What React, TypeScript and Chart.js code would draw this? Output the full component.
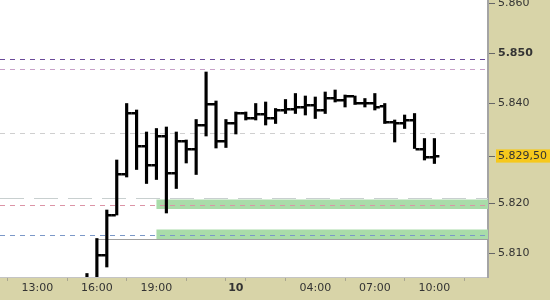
import React, { useEffect, useRef } from 'react';
import { Chart, registerables } from 'chart.js';

Chart.register(...registerables);

// Half-hour slots, 0 = 13:00 (day 9)
const barSlots = [5, 6, 7, 8, 9, 10, 11, 12, 13, 14, 15, 16, 17, 18, 19, 20, 21, 22, 23, 24, 25, 26, 27, 28, 29, 30, 31, 32, 33, 34, 35, 36, 37, 38, 39, 40];
const opens = [5801, 5804, 5809.7, 5817.7, 5826, 5838.2, 5831.5, 5827.7, 5833.5, 5826.1, 5832.5, 5831, 5835.7, 5839.8, 5832.5, 5836.2, 5838, 5837.2, 5837.9, 5837, 5838.7, 5838.8, 5839.3, 5839.6, 5838.7, 5841, 5840.7, 5841.5, 5840, 5840.1, 5839.5, 5836.3, 5836.2, 5836.7, 5831, 5829.3];
const highs = [5806, 5813, 5818.7, 5828.7, 5840, 5838.7, 5834.3, 5835, 5835.3, 5834.3, 5832.7, 5836.8, 5846.3, 5840.5, 5836.8, 5838.3, 5838.3, 5840, 5840.3, 5839, 5840.8, 5842, 5841.5, 5841.3, 5842.3, 5842.7, 5841.7, 5841.5, 5841, 5842, 5840, 5836.7, 5837.7, 5838, 5833, 5833];
const lows = [5799, 5803, 5807.3, 5817.7, 5825.3, 5826.8, 5824, 5824.8, 5818.1, 5823, 5828.1, 5825.8, 5833.5, 5831.1, 5831.2, 5833.9, 5836.7, 5836.7, 5835.7, 5836, 5838, 5838, 5837.7, 5837, 5838, 5840.3, 5839.3, 5839.8, 5839.3, 5838.7, 5836, 5832.3, 5835, 5831, 5828.7, 5828];
const closes = [5803, 5809.7, 5817.7, 5826, 5838.2, 5831.5, 5827.7, 5833.5, 5826.1, 5832.5, 5831, 5835.7, 5839.8, 5832.5, 5836, 5838, 5837.2, 5837.9, 5837, 5838.7, 5838.8, 5839.3, 5839.6, 5838.7, 5841, 5840.7, 5841.5, 5840, 5840.1, 5839.3, 5836.3, 5836.2, 5836.7, 5831, 5829.3, 5829.5];

const xTickSlots = [0, 6, 12, 18, 20, 22, 28, 34, 40];
const xTickLabels = ['13:00', '16:00', '19:00', '', '10', '', '04:00', '07:00', '10:00'];
const boldXLabel = '10';

const yTickValues = [5810, 5820, 5829.5, 5840, 5850, 5860];
const yTickLabels = ['5.810', '5.820', '5.829,50', '5.840', '5.850', '5.860'];
const boldYTick = 5850;
const lastPrice = 5829.5;

const levelValues = [5848.8, 5846.8, 5834.0, 5821.1, 5819.7, 5813.7];
const zoneLows = [5818.9, 5812.8];
const zoneHighs = [5820.8, 5814.8];
const zoneStartSlots = [12, 12];
const supportValue = 5812.8;
const supportStartSlot = 6;

// styles
const AXIS_BG = '#d8d4a8';
const levelStyles = [
  { color: '#6a4899', dash: [5, 5] },
  { color: '#c8a0c8', dash: [5, 5] },
  { color: '#cfcfcf', dash: [5, 5] },
  { color: '#c8cfcf', dash: [24, 10] },
  { color: '#dc94a6', dash: [5, 5] },
  { color: '#7b98c8', dash: [5, 5] },
];
const ZONE_COLOR = '#a9dca9';

const bgPlugin = {
  id: 'bgPlugin',
  beforeDraw(chart: any) {
    const { ctx, chartArea: a, width, height } = chart;
    ctx.save();
    ctx.fillStyle = AXIS_BG;
    ctx.fillRect(0, 0, width, height);
    ctx.fillStyle = '#ffffff';
    ctx.fillRect(a.left, a.top, a.right - a.left, a.bottom - a.top);
    ctx.restore();
  },
};

const levelsPlugin = {
  id: 'levelsPlugin',
  beforeDatasetsDraw(chart: any) {
    const { ctx, chartArea: a, scales } = chart;
    const xs = scales.x;
    const ys = scales.y;
    ctx.save();
    ctx.beginPath();
    ctx.rect(a.left, a.top, a.right - a.left, a.bottom - a.top);
    ctx.clip();
    ctx.fillStyle = ZONE_COLOR;
    zoneLows.forEach((lo, i) => {
      const x0 = xs.getPixelForValue(zoneStartSlots[i]);
      const yTop = ys.getPixelForValue(zoneHighs[i]);
      const yBot = ys.getPixelForValue(lo);
      ctx.fillRect(x0, yTop, a.right - x0, yBot - yTop);
    });
    const sy = Math.round(ys.getPixelForValue(supportValue)) + 0.5;
    ctx.strokeStyle = '#a0a0a0';
    ctx.lineWidth = 1;
    ctx.setLineDash([]);
    ctx.beginPath();
    ctx.moveTo(xs.getPixelForValue(supportStartSlot), sy);
    ctx.lineTo(a.right, sy);
    ctx.stroke();
    levelValues.forEach((v, i) => {
      const y = Math.round(ys.getPixelForValue(v)) + 0.5;
      ctx.strokeStyle = levelStyles[i].color;
      ctx.setLineDash(levelStyles[i].dash);
      ctx.beginPath();
      ctx.moveTo(a.left, y);
      ctx.lineTo(a.right, y);
      ctx.stroke();
    });
    ctx.restore();
  },
};

const ohlcTicksPlugin = {
  id: 'ohlcTicksPlugin',
  afterDatasetsDraw(chart: any) {
    const { ctx, chartArea: a, scales } = chart;
    const xs = scales.x;
    const ys = scales.y;
    ctx.save();
    ctx.beginPath();
    ctx.rect(a.left, a.top, a.right - a.left, a.bottom - a.top);
    ctx.clip();
    ctx.fillStyle = '#000';
    barSlots.forEach((s, i) => {
      const x = xs.getPixelForValue(s);
      const yo = Math.round(ys.getPixelForValue(opens[i]));
      const yc = Math.round(ys.getPixelForValue(closes[i]));
      ctx.fillRect(x - 5, yo - 1, 4, 2.5);
      ctx.fillRect(x + 1, yc - 1, 4, 2.5);
    });
    ctx.restore();
  },
};

export default function App() {
  const ref = useRef<HTMLCanvasElement | null>(null);
  useEffect(() => {
    document.body.style.margin = '0';
    if (!ref.current) return;
    const chart = new Chart(ref.current, {
      type: 'bar',
      data: {
        datasets: [
          {
            data: barSlots.map((s, i) => ({ x: s, y: [lows[i], highs[i]] })) as any,
            backgroundColor: '#000',
            borderWidth: 0,
            barThickness: 2.5,
            grouped: false,
          } as any,
        ],
      },
      options: {
        animation: false,
        responsive: false,
        maintainAspectRatio: false,
        layout: { padding: 0 },
        plugins: { legend: { display: false }, tooltip: { enabled: false } },
        scales: {
          x: {
            type: 'linear',
            min: -3.76,
            max: 45.4,
            offset: false,
            afterBuildTicks: (scale: any) => {
              scale.ticks = xTickSlots.map((v) => ({ value: v }));
            },
            afterFit: (scale: any) => {
              scale.height = 23;
              scale.paddingLeft = 0;
              scale.paddingRight = 0;
            },
            grid: { display: true, drawOnChartArea: false, drawTicks: true, tickLength: 4, color: '#a9a690' },
            border: { display: true, color: '#c4c4c4', width: 1 },
            ticks: {
              autoSkip: false,
              maxRotation: 0,
              padding: 1,
              color: '#333333',
              font: (ctx: any) => ({
                family: 'DejaVu Sans',
                size: 11,
                weight: ctx.tick && xTickLabels[xTickSlots.indexOf(ctx.tick.value)] === boldXLabel ? 'bold' : 'normal',
              }),
              callback: (_v: any, idx: number) => xTickLabels[idx],
            },
          },
          y: {
            type: 'linear',
            position: 'right',
            min: 5805.3,
            max: 5860.7,
            afterBuildTicks: (scale: any) => {
              scale.ticks = yTickValues.map((v) => ({ value: v }));
            },
            afterFit: (scale: any) => {
              scale.width = 62;
              scale.paddingTop = 0;
              scale.paddingBottom = 0;
            },
            grid: { display: true, drawOnChartArea: false, drawTicks: true, tickLength: 7, color: '#666666' },
            border: { display: true, color: '#a4a4a4', width: 2 },
            ticks: {
              autoSkip: false,
              padding: 3,
              color: '#333333',
              font: (ctx: any) => ({
                family: 'DejaVu Sans',
                size: 11,
                weight: ctx.tick && ctx.tick.value === boldYTick ? 'bold' : 'normal',
              }),
              showLabelBackdrop: (ctx: any) => !!ctx.tick && ctx.tick.value === lastPrice,
              backdropColor: '#f6c81c',
              backdropPadding: { top: 0, bottom: 0, left: 2, right: 8 },
              callback: (_v: any, idx: number) => yTickLabels[idx],
            } as any,
          },
        },
      },
      plugins: [bgPlugin, levelsPlugin, ohlcTicksPlugin],
    });
    return () => chart.destroy();
  }, []);
  return (
    <div style={{ position: 'fixed', left: 0, top: 0, width: 550, height: 300 }}>
      <canvas ref={ref} width={550} height={300} />
    </div>
  );
}
